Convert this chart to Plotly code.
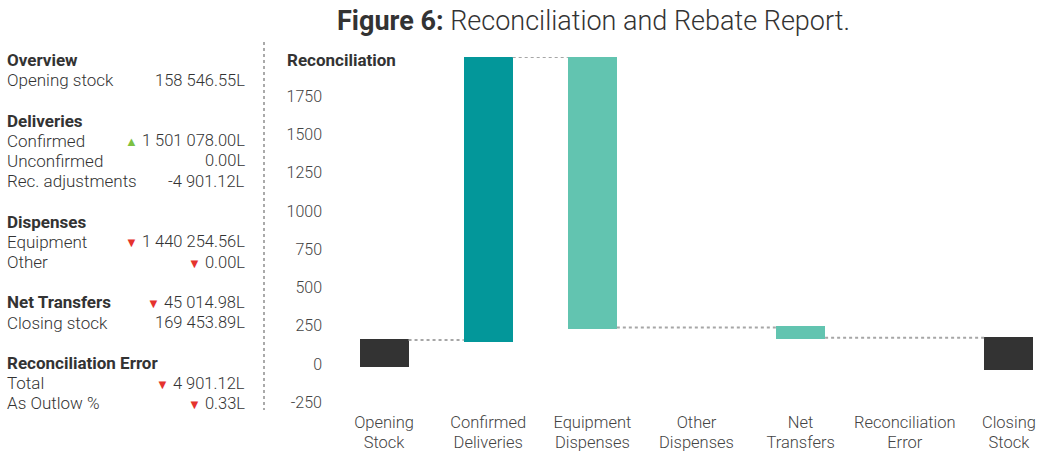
import plotly.graph_objects as go

W, H = 1061, 451

# Waterfall chart data (thousands of litres)
categories = ["Opening<br>Stock", "Confirmed<br>Deliveries", "Equipment<br>Dispenses",
              "Other<br>Dispenses", "Net<br>Transfers", "Reconciliation<br>Error", "Closing<br>Stock"]
bar_base = [-25, 140, 225, None, 160, None, -45]
bar_top = [158.5, 2000, 2000, None, 240, None, 169.5]
bar_colors = ["#333333", "#03979a", "#62c4b0", "#62c4b0", "#62c4b0", "#62c4b0", "#333333"]

connector_from = [0, 1, 2, 4]
connector_to = [1, 2, 4, 6]
connector_level = [150, 2000, 232, 165]

y_ticks = [-250, 0, 250, 500, 750, 1000, 1250, 1500, 1750]

# Summary panel
panel_rows = [0, 1, 3, 4, 5, 6, 8, 9, 10, 12, 13, 15, 16, 17]
panel_labels = ["Overview", "Opening stock", "Deliveries", "Confirmed", "Unconfirmed",
                "Rec. adjustments", "Dispenses", "Equipment", "Other", "Net Transfers",
                "Closing stock", "Reconciliation Error", "Total", "As Outlow %"]
panel_bold = [True, False, True, False, False, False, True, False, False, True,
              False, True, False, False]
panel_values = ["", "158 546.55L", "", "1 501 078.00L", "0.00L", "-4 901.12L", "",
                "1 440 254.56L", "0.00L", "45 014.98L", "169 453.89L", "", "4 901.12L", "0.33L"]
panel_trend = ["", "", "", "up", "", "", "", "down", "down", "down", "", "", "down", "down"]

FONT = "Roboto"
TEXT = "#333333"
LIGHT = 300

x_idx = list(range(len(categories)))
bar_width = 0.47

fig = go.Figure()
fig.add_trace(go.Bar(
    x=x_idx,
    y=[None if t is None else t - b for t, b in zip(bar_top, bar_base)],
    base=bar_base,
    width=bar_width,
    marker=dict(color=bar_colors, line=dict(width=0)),
    hoverinfo="skip",
    showlegend=False,
))

for a, b, lvl in zip(connector_from, connector_to, connector_level):
    fig.add_trace(go.Scatter(
        x=[a + bar_width / 2, b - bar_width / 2], y=[lvl, lvl],
        mode="lines", line=dict(color="#a6a6a6", width=2, dash="dot"),
        hoverinfo="skip", showlegend=False, cliponaxis=False,
    ))

annotations = []
# Title
annotations.append(dict(
    x=593 / W, y=1 - 21 / H, xref="paper", yref="paper", xanchor="center", yanchor="middle",
    text="<b>Figure 6:</b> Reconciliation and Rebate Report.", showarrow=False,
    font=dict(family=FONT, size=27, color=TEXT, weight=LIGHT),
))
# Chart label
annotations.append(dict(
    x=285 / W, y=1 - 60 / H, xref="paper", yref="paper", xanchor="left", yanchor="middle",
    text="<b>Reconciliation</b>", showarrow=False, font=dict(family=FONT, size=17, color=TEXT),
))

tri = {"up": "<span style='color:#7dc142;font-size:13px'>▲</span> ",
       "down": "<span style='color:#e5322d;font-size:13px'>▼</span> ", "": ""}

for r, lab, bold, val, tr in zip(panel_rows, panel_labels, panel_bold, panel_values, panel_trend):
    yy = 1 - (60 + 20.2 * r) / H
    annotations.append(dict(
        x=5 / W, y=yy, xref="paper", yref="paper", xanchor="left", yanchor="middle",
        text=f"<b>{lab}</b>" if bold else lab, showarrow=False,
        font=dict(family=FONT, size=17, color=TEXT, weight=LIGHT),
    ))
    if val:
        annotations.append(dict(
            x=247 / W, y=yy, xref="paper", yref="paper", xanchor="right", yanchor="middle",
            text=tri[tr] + val, showarrow=False,
            font=dict(family=FONT, size=16.5, color=TEXT, weight=LIGHT),
        ))

# Category labels: glyphs at 16.5px on a tighter 15px line pitch
tick_text = ["<br>".join(f"<span style='font-size:16.5px'>{part}</span>"
                         for part in c.split("<br>")) for c in categories]

fig.update_layout(
    width=W, height=H,
    margin=dict(l=0, r=0, t=0, b=0, autoexpand=False),
    paper_bgcolor="white", plot_bgcolor="white",
    font=dict(family=FONT, size=15, color="#444444"),
    bargap=0,
    xaxis=dict(
        domain=[332 / W, 1], range=[-0.5, 6.5], automargin=False,
        tickmode="array", tickvals=x_idx, ticktext=tick_text,
        showgrid=False, zeroline=False, showline=False, ticks="",
        ticklabelstandoff=0,
        tickfont=dict(family=FONT, size=15, color="#444444", weight=LIGHT),
    ),
    yaxis=dict(
        domain=[39 / H, 1 - 57 / H], range=[-320, 2000], automargin=False,
        tickmode="array", tickvals=y_ticks, ticktext=[str(v) for v in y_ticks],
        showgrid=False, zeroline=False, showline=False, ticks="",
        ticklabelstandoff=9, ticklabelshift=1,
        tickfont=dict(family=FONT, size=16, color="#444444", weight=LIGHT),
    ),
    annotations=annotations,
    shapes=[dict(
        type="line", xref="paper", yref="paper",
        x0=264 / W, x1=264 / W, y0=1 - 42 / H, y1=1 - 410 / H,
        line=dict(color="#aaaaaa", width=2, dash="dot"),
    )],
)

fig.write_html("out.html")
